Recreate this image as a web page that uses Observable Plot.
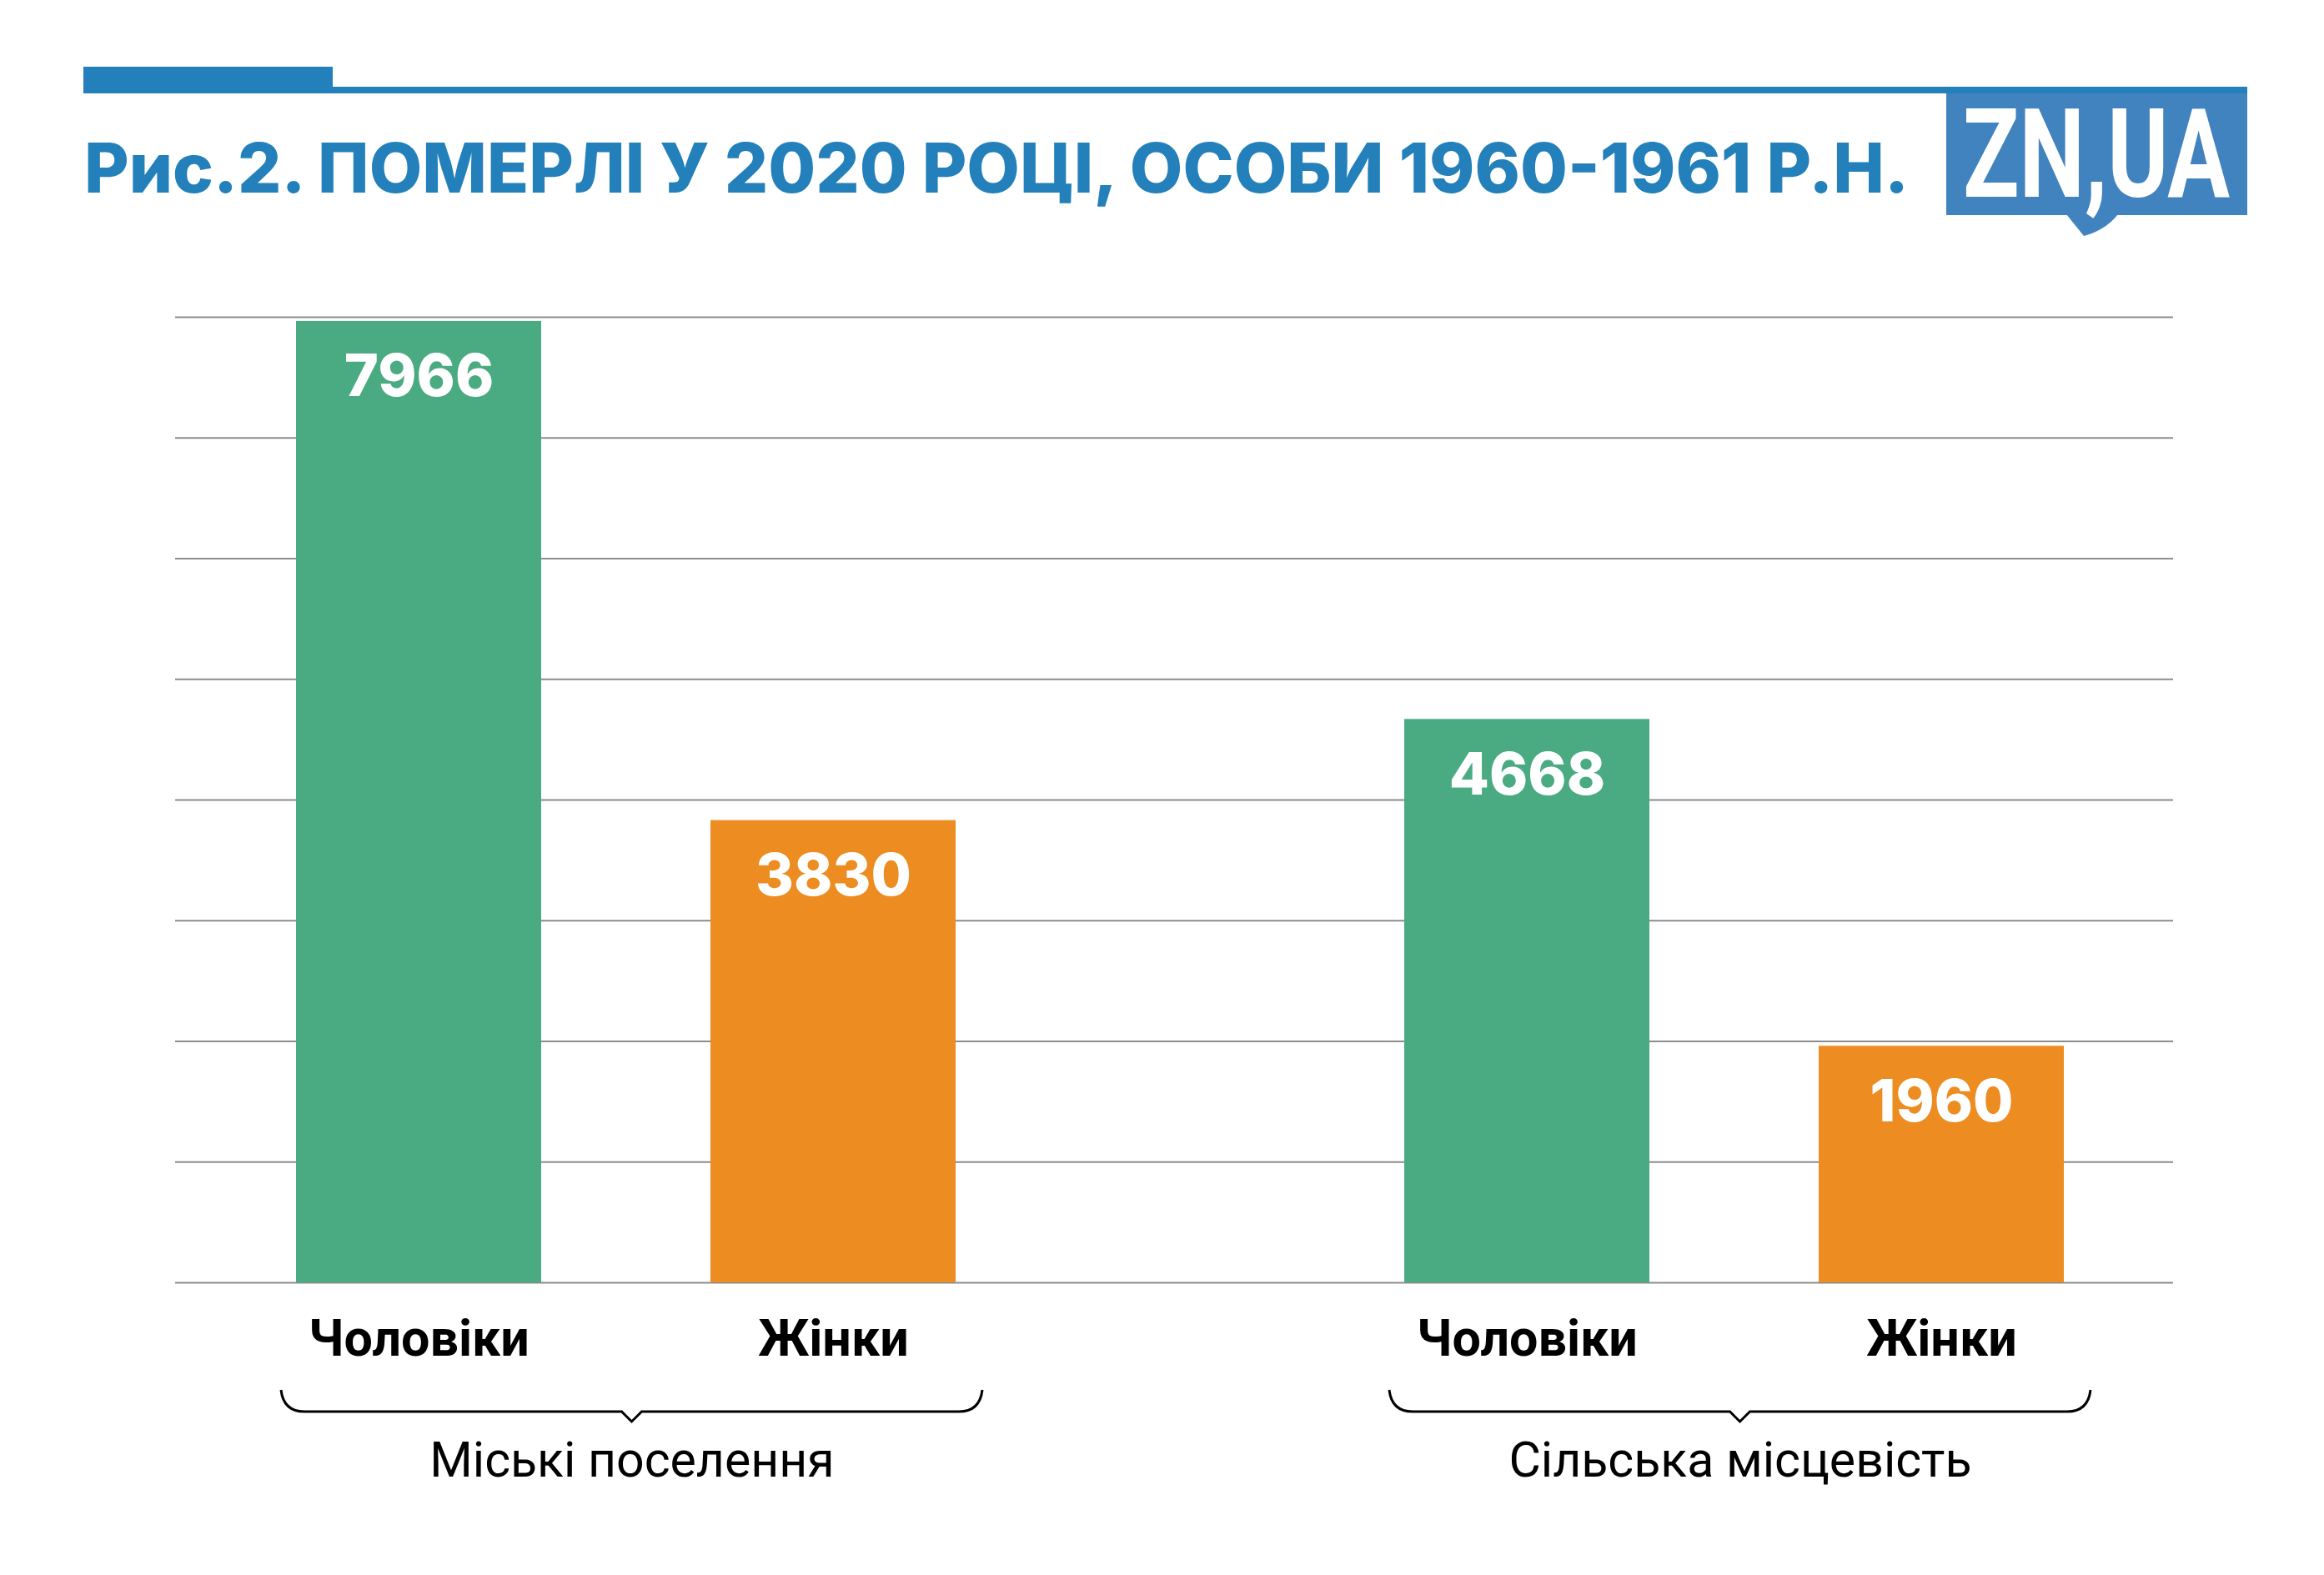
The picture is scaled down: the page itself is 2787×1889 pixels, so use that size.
<!DOCTYPE html>
<html>
<head>
<meta charset="utf-8">
<script src="https://cdn.jsdelivr.net/npm/d3@7"></script>
<script src="https://cdn.jsdelivr.net/npm/@observablehq/plot@0.6"></script>
<style>
  html, body { margin: 0; padding: 0; background: #ffffff; }
  #wrap { position: relative; width: 2787px; height: 1889px; background: #ffffff; overflow: hidden; }
  .layer { position: absolute; left: 0; top: 0; }
</style>
</head>
<body>
<div id="wrap">
  <div id="grid" class="layer"></div>
  <div id="bars" class="layer"></div>
  <svg id="head" class="layer" width="2787" height="320" xmlns="http://www.w3.org/2000/svg">
    <rect x="100" y="80" width="299" height="32" fill="#2380ba"></rect>
    <rect x="399" y="104" width="2296" height="8" fill="#2380ba"></rect>
    <rect x="2334" y="112" width="361" height="146" fill="#4183be"></rect>
    <path d="M2478,257 L2499,283 Q2525,276 2540,257 Z" fill="#4183be"></path>
    <text x="2354" y="236" fill="#ffffff" font-family="Roboto" font-weight="700" font-size="149" textLength="320" lengthAdjust="spacingAndGlyphs">ZN,UA</text>
    <text id="title" x="101" y="231" fill="#2380ba" font-family="Inter" font-weight="800" font-size="82" textLength="2188" lengthAdjust="spacingAndGlyphs">Рис.2. ПОМЕРЛІ У 2020 РОЦІ, ОСОБИ 1960-1961 Р.Н.</text>
  </svg>
</div>
<script>
// ---- data ----
const groups = ["Міські поселення", "Сільська місцевість"];
const sexes = ["Чоловіки", "Жінки"];
const urbanValues = [7966, 3830];
const ruralValues = [4668, 1960];
const yTicks = [0, 1000, 2000, 3000, 4000, 5000, 6000, 7000, 8000];
const sexColors = ["#4aab82", "#ec8c21"];

const seriesByGroup = [urbanValues, ruralValues];
const rows = groups.flatMap((g, gi) =>
  sexes.map((s, si) => ({group: g, sex: s, value: seriesByGroup[gi][si]}))
);

// ---- layout ----
const W = 2787, H = 1889;
const mTop = 380, mBottom = 351;
const frameBottom = H - mBottom;

// gridlines layer
const grid = Plot.plot({
  width: W, height: H,
  marginTop: mTop, marginBottom: mBottom, marginLeft: 210, marginRight: 181,
  style: {background: "#ffffff"},
  y: {domain: [0, 8000], axis: null},
  marks: [
    Plot.ruleY(yTicks, {stroke: "#8c8c8c", strokeWidth: 2})
  ]
});
document.getElementById("grid").appendChild(grid);

// bars layer
const chart = Plot.plot({
  width: W, height: H,
  marginTop: mTop, marginBottom: mBottom, marginLeft: 337, marginRight: 280,
  style: {background: "transparent", overflow: "visible"},
  fx: {domain: groups, axis: null, paddingInner: 0.3672, paddingOuter: 0},
  x: {domain: sexes, axis: null, paddingInner: 0.4085, paddingOuter: 0.0503, align: 0.35},
  y: {domain: [0, 8000], axis: null},
  color: {domain: sexes, range: sexColors},
  marks: [
    Plot.barY(rows, {fx: "group", x: "sex", y: "value", fill: "sex"}),
    Plot.text(rows, {
      fx: "group", x: "sex", y: "value", text: d => String(d.value),
      fill: "#ffffff", fontFamily: "Inter", fontWeight: 800, fontSize: 70,
      lineAnchor: "bottom", dy: 90
    }),
    Plot.text(rows, {
      fx: "group", x: "sex", text: "sex", frameAnchor: "bottom",
      fill: "#000000", fontFamily: "Roboto", fontWeight: 700, fontSize: 61,
      lineAnchor: "bottom", dy: 87
    }),
    Plot.text(groups, {
      fx: d => d, text: d => d, frameAnchor: "bottom",
      fill: "#000000", fontFamily: "Roboto", fontWeight: 400, fontSize: 59,
      lineAnchor: "bottom", dy: 232
    })
  ]
});
document.getElementById("bars").appendChild(chart);

// curly braces under each group, placed from the fx band scale
const fxs = chart.scale("fx");
const svg = d3.select(chart);
const yEnd = frameBottom + 129, yLine = frameBottom + 155, yTip = frameBottom + 167;
groups.forEach(g => {
  const x0 = fxs.apply(g);
  const x1 = x0 + fxs.bandwidth;
  const xm = (x0 + x1) / 2;
  const r = 28;
  const p = d3.path();
  p.moveTo(x0, yEnd);
  p.quadraticCurveTo(x0 + 3, yLine, x0 + r, yLine);
  p.lineTo(xm - 12, yLine);
  p.lineTo(xm, yTip);
  p.lineTo(xm + 12, yLine);
  p.lineTo(x1 - r, yLine);
  p.quadraticCurveTo(x1 - 3, yLine, x1, yEnd);
  svg.append("path")
    .attr("d", p.toString())
    .attr("fill", "none")
    .attr("stroke", "#000000")
    .attr("stroke-width", 3)
    .attr("stroke-linejoin", "miter");
});
</script>
</body>
</html>
